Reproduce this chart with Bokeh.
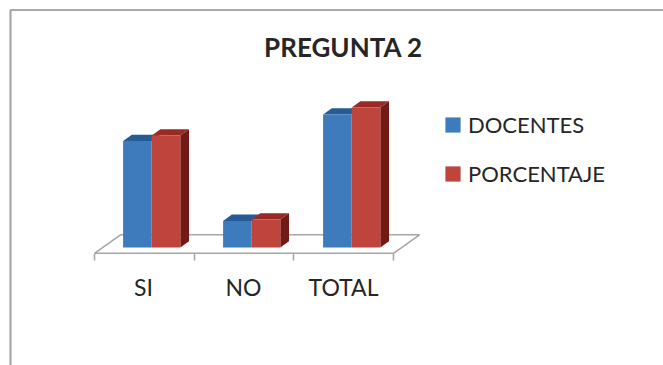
from bokeh.plotting import figure
from bokeh.models import Range1d, Legend, LegendItem, Label, FixedTicker
from bokeh.embed import file_html
from bokeh.resources import INLINE

title_text = "PREGUNTA 2"
categories = ["SI", "NO", "TOTAL"]
series_names = ["DOCENTES", "PORCENTAJE"]
docentes = [76, 19, 95]
porcentaje = [80, 20, 100]

WIDTH, HEIGHT = 663, 365
BASE_PX = 247.0      # pixel row of value zero
Y_SCALE = 1.4        # pixels per value unit
X_SCALE = 100.0      # pixels per category step
CENTER_PX = 151.2    # pixel column of the first category's bar centre
GAP_SHIFT = -8.2     # label/tick centre relative to the bar centre, in pixels


def dx(px):
    return (px - CENTER_PX) / X_SCALE


def dy(py):
    return (BASE_PX - py) / Y_SCALE


p = figure(width=WIDTH, height=HEIGHT, output_backend="svg", toolbar_location=None,
           x_range=Range1d(dx(0), dx(WIDTH)), y_range=Range1d(dy(HEIGHT), dy(0)),
           min_border=0, min_border_left=0, min_border_right=0,
           min_border_top=0, min_border_bottom=0,
           background_fill_color="white", border_fill_color="white",
           outline_line_color=None)
p.grid.visible = False
p.yaxis.visible = False

# Chart frame, open towards the right and the bottom of the page
p.line([dx(10), dx(10), dx(663)], [dy(365), dy(9.5), dy(9.5)],
       line_color="#a9a9a9", line_width=2.2)

# Floor of the 3D plot
depth_x = 26 / X_SCALE
depth_y = 18.5 / Y_SCALE
floor_left = dx(94)
floor_right = dx(393)
floor_front = dy(252.8)
p.line([floor_left, floor_left + depth_x, floor_right + depth_x, floor_right, floor_left],
       [floor_front, floor_front + depth_y, floor_front + depth_y, floor_front, floor_front],
       line_color="#a6a6a6", line_width=1.6)

# Bars: a front face, a top face and, for the nearer series, a side face
bar_w = 28.6 / X_SCALE
box_x = 8.7 / X_SCALE
box_y = 6.3 / Y_SCALE
front_colors = ["#3e7bbc", "#be443c"]
top_colors = ["#265c94", "#9a2a24"]
SIDE_COLOR = "#741a15"
front_renderers = []

for s, values in enumerate([docentes, porcentaje]):
    lefts = [i + (s - 1) * bar_w for i in range(len(values))]
    rights = [l + bar_w for l in lefts]
    top_xs = [[l, l + box_x, r + box_x, r] for l, r in zip(lefts, rights)]
    top_ys = [[v, v + box_y, v + box_y, v] for v in values]
    p.patches(top_xs, top_ys, fill_color=top_colors[s], line_color=None)
    if s == 1:
        side_xs = [[r, r + box_x, r + box_x, r] for r in rights]
        side_ys = [[0, box_y, v + box_y, v] for v in values]
        p.patches(side_xs, side_ys, fill_color=SIDE_COLOR, line_color=None)
    front = p.quad(left=lefts, right=rights, bottom=0, top=values,
                   fill_color=front_colors[s], line_color=None)
    front_renderers.append(front)

# Category axis pinned to the floor's front edge
ax = p.xaxis[0]
ax.fixed_location = floor_front
ax.bounds = (floor_left, floor_right)
ax.ticker = FixedTicker(ticks=[i + GAP_SHIFT / X_SCALE for i in range(3)],
                        minor_ticks=[floor_left + i * (floor_right - floor_left) / 3 for i in range(4)])
ax.major_label_overrides = {i + GAP_SHIFT / X_SCALE: c for i, c in enumerate(categories)}
ax.axis_line_color = None
ax.major_tick_line_color = None
ax.major_tick_in = 0
ax.major_tick_out = 7
ax.minor_tick_line_color = "#a6a6a6"
ax.minor_tick_line_width = 1.6
ax.minor_tick_in = 0
ax.minor_tick_out = 7
ax.major_label_standoff = 13
ax.major_label_text_font = "Lato"
ax.major_label_text_font_size = "23px"
ax.major_label_text_color = "#262626"

legend = Legend(items=[LegendItem(label=n, renderers=[r]) for n, r in zip(series_names, front_renderers)],
                location=(443, 365 - 115 - 72), orientation="vertical",
                border_line_color=None, background_fill_alpha=0,
                padding=0, margin=0, spacing=22, glyph_width=19, glyph_height=19,
                label_standoff=6, label_text_font="Lato", label_text_font_size="22px",
                label_text_color="#262626")
p.add_layout(legend)

p.add_layout(Label(x=dx(343), y=dy(46.5), text=title_text, text_align="center",
                   text_baseline="alphabetic", text_font="Lato", text_font_style="bold",
                   text_font_size="26px", text_color="#262626"))

open("out.html", "w").write(file_html(p, INLINE))
